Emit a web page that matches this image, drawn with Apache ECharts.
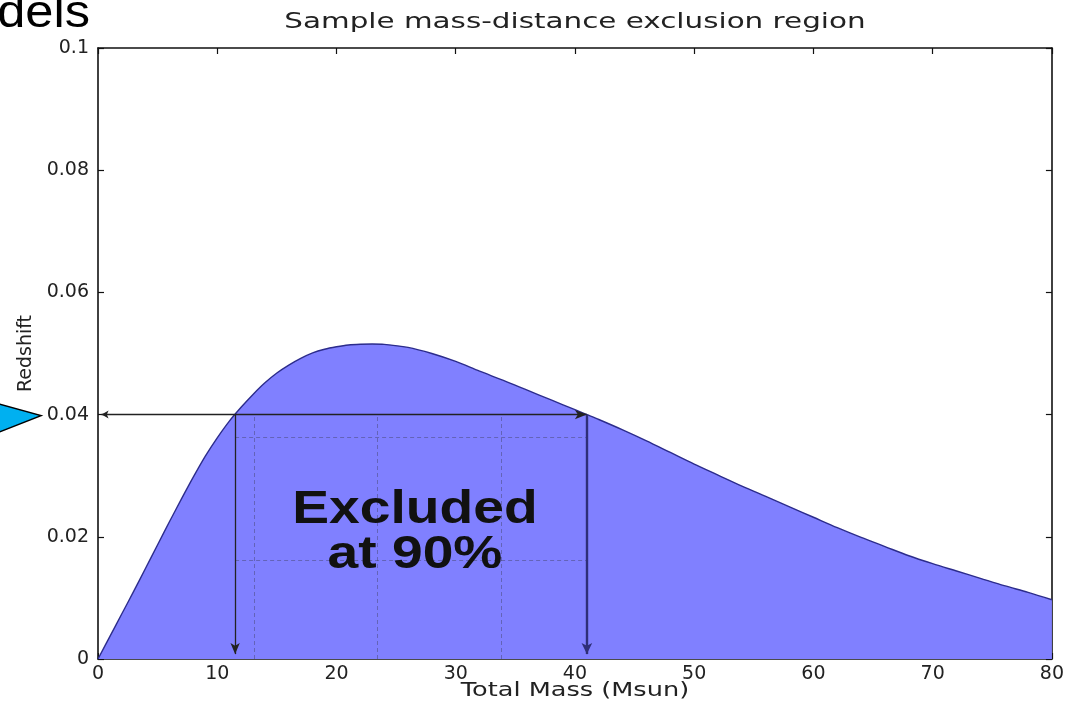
<!DOCTYPE html>
<html>
<head>
<meta charset="utf-8">
<script src="https://cdn.jsdelivr.net/npm/echarts@6/dist/echarts.min.js"></script>
<style>html,body{margin:0;padding:0;background:#fff}#c{width:1067px;height:710px}</style>
</head>
<body>
<div id="c"></div>
<script>
// ---- data ----
const massX = [0,1,2,3,4,5,6,7,8,9,10,11,12,13,14,15,16,17,18,19,20,21,22,23,24,26,28,30,32,34,36,38,40,41,42,44,46,48,50,52,54,56,58,60,62,64,66,68,70,72,74,76,78,80];
const redshift = [0,0.0037,0.0074,0.0111,0.0149,0.0187,0.0225,0.0262,0.0298,0.0332,0.0362,0.0389,0.0412,0.0433,0.0452,0.0468,0.0481,0.0492,0.0501,0.0507,0.0511,0.0514,0.05152,0.05155,0.0515,0.0510,0.0500,0.0487,0.0471,0.0456,0.0440,0.0424,0.0408,0.0400,0.0392,0.0375,0.0357,0.0338,0.0319,0.0301,0.0283,0.0266,0.0249,0.0232,0.0215,0.0199,0.0184,0.0169,0.0156,0.0144,0.0132,0.0120,0.0109,0.0097];
const excludedMass = [11.5, 41.0];
const excludedZ = 0.04;
const hatchGridX = [13.1, 23.4, 33.8];
const hatchGridY = [0.0363, 0.0162];
const titleText = 'Sample mass-distance exclusion region';
const xName = 'Total Mass (Msun)';
const yName = 'Redshift';
const excludedLines = ['Excluded', 'at 90%'];

// hatch pattern
const pc = document.createElement('canvas');
pc.width = 5; pc.height = 5;
const g = pc.getContext('2d');
g.fillStyle = 'rgba(40,40,140,0.06)';
g.fillRect(0,0,5,5);
g.strokeStyle = 'rgba(255,255,255,0.33)';
g.lineWidth = 1;
g.beginPath(); g.moveTo(0,5); g.lineTo(5,0); g.moveTo(-1,1); g.lineTo(1,-1); g.moveTo(4,6); g.lineTo(6,4); g.stroke();

const font = 'DejaVu Sans';
const chart = echarts.init(document.getElementById('c'), null, {renderer:'canvas'});

const gridLines = [];
hatchGridX.forEach(x => gridLines.push([{coord:[x,0]},{coord:[x,excludedZ]}]));
hatchGridY.forEach(y => gridLines.push([{coord:[excludedMass[0],y]},{coord:[excludedMass[1],y]}]));

const axisCommon = {
  min: 0,
  axisLine: {show:true, onZero:false, lineStyle:{color:'#111', width:1.6}},
  axisTick: {show:true, inside:true, length:6, lineStyle:{color:'#111', width:1.2}},
  splitLine: {show:false}
};

chart.setOption({
  animation: false,
  grid: {left: 98, right: 13, top: 48, bottom: 51},
  xAxis: [
    Object.assign({}, axisCommon, {type:'value', max:80, interval:10, position:'bottom',
      axisLabel:{fontFamily:font, fontSize:19, color:'#222', margin:6}}),
    Object.assign({}, axisCommon, {type:'value', max:80, interval:10, position:'top', axisLabel:{show:false}})
  ],
  yAxis: [
    Object.assign({}, axisCommon, {type:'value', max:0.1, interval:0.02, position:'left',
      name: yName, nameLocation:'middle', nameGap:62,
      nameTextStyle:{fontFamily:font, fontSize:19, color:'#222'},
      axisLabel:{fontFamily:font, fontSize:19, color:'#222', margin:9,
        formatter: v => String(+v.toFixed(2))}}),
    Object.assign({}, axisCommon, {type:'value', max:0.1, interval:0.02, position:'right', axisLabel:{show:false}})
  ],
  series: [
    {
      type:'line', data: massX.map((x,i)=>[x, redshift[i]]),
      smooth: 0.3, showSymbol:false, symbol:'none',
      lineStyle:{color:'#2c2c8c', width:1.4},
      areaStyle:{color:'#8080ff', opacity:1},
      z: 2,
      markArea: {silent:true,
        itemStyle:{color:{image: pc, repeat:'repeat'}},
        data:[[{coord:[excludedMass[0],0]},{coord:[excludedMass[1],excludedZ]}]]}
    },
    {
      type:'line', data:[], z:5,
      markLine: {silent:true, symbol:'none', animation:false,
        lineStyle:{type:[4,3], color:'rgba(70,70,110,0.55)', width:0.9},
        label:{show:false}, data: gridLines}
    },
    {
      type:'line', data:[], z:6,
      markLine: {silent:true, animation:false, label:{show:false},
        symbol:['arrow','arrow'], symbolSize:[7,10],
        lineStyle:{type:'solid', color:'#222', width:1.3},
        data:[
          [{coord:[0.3, excludedZ], symbol:'arrow', symbolSize:[6,7]}, {coord:[excludedMass[1], excludedZ], symbol:'arrow', symbolSize:[7,12]}],
          [{coord:[excludedMass[0], excludedZ], symbol:'none'}, {coord:[excludedMass[0], 0.0008], symbol:'arrow', symbolSize:[7,11]}],
          [{coord:[excludedMass[1], excludedZ], symbol:'none', lineStyle:{color:'#2e2e78', width:2.4}}, {coord:[excludedMass[1], 0.0008], symbol:'arrow', symbolSize:[8,11]}]
        ]}
    }
  ]
});

// text elements placed from the chart's own scales
const centerPx = chart.convertToPixel({xAxisIndex:0, yAxisIndex:0}, [(excludedMass[0]+excludedMass[1])/2, excludedZ/2]);
const plotL = chart.convertToPixel({xAxisIndex:0}, 0);
const plotR = chart.convertToPixel({xAxisIndex:0}, 80);
const plotB = chart.convertToPixel({yAxisIndex:0}, 0);
const plotT = chart.convertToPixel({yAxisIndex:0}, 0.1);
const zPx = chart.convertToPixel({yAxisIndex:0}, excludedZ);
const midX = (plotL + plotR) / 2;

chart.setOption({
  graphic: [
    {type:'text', x: midX, y: plotT - 25, scaleX: 1.4, z: 10,
      style:{text:titleText, fontFamily:font, fontSize:21, fill:'#222', align:'center', verticalAlign:'middle'}},
    {type:'text', x: midX, y: plotB + 32, scaleX: 1.28, z: 10,
      style:{text:xName, fontFamily:font, fontSize:20, fill:'#222', align:'center', verticalAlign:'middle'}},
    {type:'text', x: plotL - 8, y: 14, scaleX: 1.1, z: 10,
      style:{text:'Models', fontFamily:'Liberation Sans', fontSize:46, fill:'#000', align:'right', verticalAlign:'middle'}},
    {type:'text', x: centerPx[0] + 4, y: centerPx[1] - 26, scaleX: 1.2, z: 10,
      style:{text:excludedLines[0], fontFamily:'Liberation Sans', fontWeight:'bold', fontSize:46, fill:'#111', align:'center', verticalAlign:'middle'}},
    {type:'text', x: centerPx[0] + 4, y: centerPx[1] + 19, scaleX: 1.2, z: 10,
      style:{text:excludedLines[1], fontFamily:'Liberation Sans', fontWeight:'bold', fontSize:46, fill:'#111', align:'center', verticalAlign:'middle'}},
    {type:'polygon', z: 10, shape:{points:[[-20, zPx-16],[41, zPx+1],[-20, zPx+25]]},
      style:{fill:'#00b0f0', stroke:'#000', lineWidth:1.5}}
  ]
});
</script>
</body>
</html>
